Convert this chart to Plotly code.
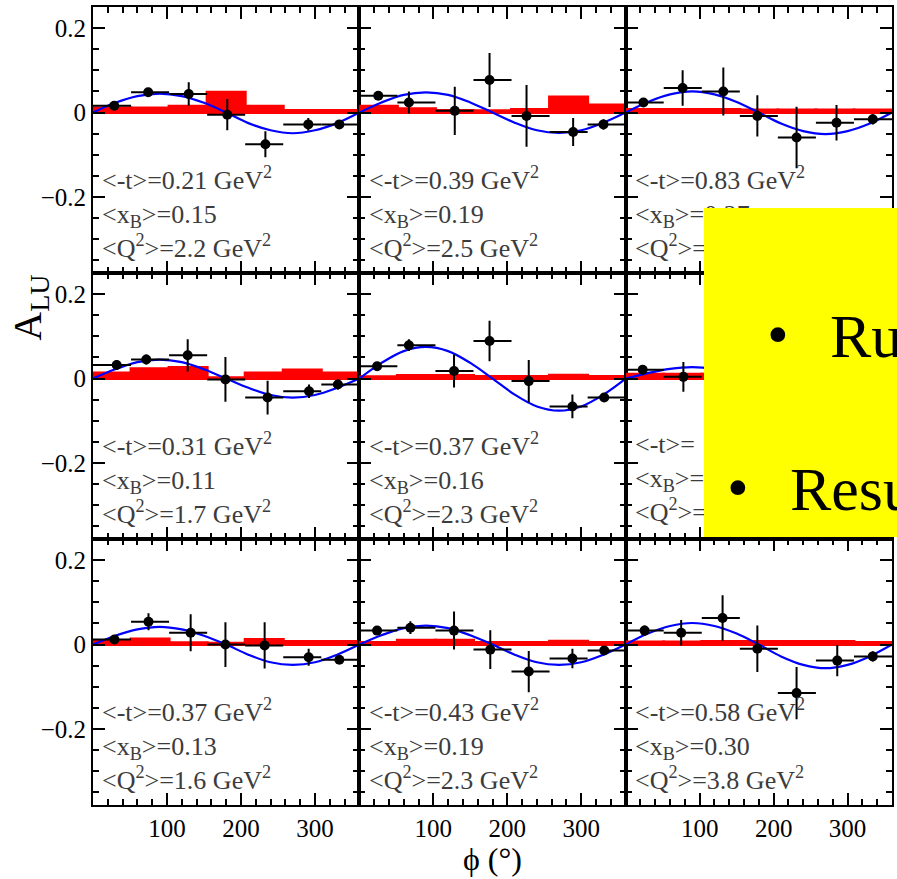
import plotly.graph_objects as go
from plotly.subplots import make_subplots

# ---------------- data ----------------
phi_edges = [0.0, 51.43, 102.86, 154.29, 205.71, 257.14, 308.57, 360.0]
phi_fit = [0, 30, 60, 90, 120, 150, 180, 210, 240, 270, 300, 330, 360]

# panels in reading order (top-left -> bottom-right)
phi_points = [
    [28.7, 74.6, 129.4, 181.5, 233, 291, 333],
    [25.6, 67, 129, 176, 226, 289, 330],
    [24, 77, 132, 178, 231, 285, 334],
    [32, 72, 128, 179, 236, 292, 331],
    [24, 67, 128, 176, 229, 288, 331],
    [23, 78],
    [29, 75, 132, 179, 232, 291.5, 333],
    [24, 69, 128, 177, 229, 288, 331],
    [25.6, 75, 131, 178, 231, 286, 334],
]
alu_values = [
    [0.016, 0.048, 0.044, -0.005, -0.075, -0.028, -0.028],
    [0.040, 0.024, 0.004, 0.077, -0.008, -0.046, -0.028],
    [0.024, 0.058, 0.050, -0.008, -0.059, -0.024, -0.016],
    [0.032, 0.045, 0.055, -0.002, -0.045, -0.030, -0.014],
    [0.029, 0.079, 0.018, 0.089, -0.006, -0.066, -0.045],
    [0.021, 0.004],
    [0.012, 0.054, 0.028, 0.000, -0.002, -0.030, -0.036],
    [0.033, 0.040, 0.033, -0.012, -0.064, -0.033, -0.014],
    [0.033, 0.028, 0.063, -0.010, -0.115, -0.038, -0.028],
]
alu_errors = [
    [0.010, 0.010, 0.028, 0.037, 0.031, 0.015, 0.010],
    [0.010, 0.026, 0.057, 0.064, 0.073, 0.033, 0.012],
    [0.010, 0.042, 0.057, 0.049, 0.073, 0.042, 0.012],
    [0.012, 0.012, 0.038, 0.053, 0.040, 0.016, 0.012],
    [0.010, 0.014, 0.039, 0.048, 0.050, 0.028, 0.010],
    [0.010, 0.035],
    [0.010, 0.020, 0.044, 0.053, 0.055, 0.020, 0.010],
    [0.010, 0.015, 0.045, 0.046, 0.049, 0.023, 0.010],
    [0.012, 0.030, 0.054, 0.055, 0.062, 0.037, 0.012],
]
sys_values = [
    [0.011, 0.011, 0.015, 0.048, 0.015, 0.005, 0.005],
    [0.015, 0.009, 0.005, 0.004, 0.007, 0.037, 0.018],
    [0.007, 0.007, 0.007, 0.006, 0.006, 0.006, 0.006],
    [0.013, 0.023, 0.026, 0.002, 0.013, 0.020, 0.013],
    [0.004, 0.007, 0.007, 0.005, 0.005, 0.008, 0.005],
    [0.010, 0.010, 0.010],
    [0.007, 0.013, 0.004, 0.003, 0.012, 0.007, 0.007],
    [0.005, 0.010, 0.010, 0.005, 0.005, 0.008, 0.005],
    [0.006, 0.006, 0.007, 0.007, 0.007, 0.007, 0.005],
]
fit_values = [
    [0, 0.023, 0.039, 0.045, 0.039, 0.023, 0, -0.025, -0.042, -0.049, -0.042, -0.025, 0],
    [0, 0.024, 0.042, 0.048, 0.042, 0.024, 0, -0.024, -0.042, -0.048, -0.042, -0.024, 0],
    [0, 0.025, 0.043, 0.050, 0.043, 0.025, 0, -0.026, -0.044, -0.051, -0.044, -0.026, 0],
    [0, 0.022, 0.039, 0.045, 0.039, 0.022, 0, -0.022, -0.039, -0.045, -0.039, -0.022, 0],
    [0, 0.037, 0.065, 0.075, 0.065, 0.037, 0, -0.038, -0.066, -0.076, -0.066, -0.038, 0],
    [0, 0.013, 0.023, 0.027, 0.023, 0.013, 0, -0.013, -0.023, -0.027, -0.023, -0.013, 0],
    [0, 0.021, 0.036, 0.042, 0.036, 0.021, 0, -0.024, -0.042, -0.048, -0.042, -0.024, 0],
    [0, 0.022, 0.039, 0.045, 0.039, 0.022, 0, -0.024, -0.042, -0.048, -0.042, -0.024, 0],
    [0, 0.026, 0.044, 0.051, 0.044, 0.026, 0, -0.028, -0.048, -0.056, -0.048, -0.028, 0],
]
t_labels = ["0.21", "0.39", "0.83", "0.31", "0.37", None, "0.37", "0.43", "0.58"]
xb_labels = ["0.15", "0.19", "0.27", "0.11", "0.16", None, "0.13", "0.19", "0.30"]
q2_labels = ["2.2", "2.5", None, "1.7", "2.3", None, "1.6", "2.3", "3.8"]
x_tick_vals = [100, 200, 300]
y_tick_vals = [-0.2, 0, 0.2]
overlay_lines = ["Ru", "Resu"]

# ---------------- figure ----------------
FONT = "Liberation Serif"
fig = make_subplots(rows=3, cols=3, horizontal_spacing=0, vertical_spacing=0)

bin_w = phi_edges[1] - phi_edges[0]
annotations = []
for i in range(9):
    r, c = i // 3 + 1, i % 3 + 1
    n = "" if i == 0 else str(i + 1)
    # systematic band
    centers = [(phi_edges[k] + phi_edges[k + 1]) / 2 for k in range(len(sys_values[i]))]
    fig.add_trace(go.Bar(x=centers, y=sys_values[i], base=0, width=bin_w,
                         marker=dict(color="#ff0000", line=dict(color="#ff0000", width=3)),
                         showlegend=False), row=r, col=c)
    # fit curve
    fig.add_trace(go.Scatter(x=phi_fit, y=fit_values[i], mode="lines",
                             line=dict(color="#0000ff", width=2.2, shape="spline"),
                             showlegend=False), row=r, col=c)
    # data points
    lo, hi = [], []
    for p in phi_points[i]:
        k = max(j for j in range(7) if phi_edges[j] <= p)
        lo.append(p - phi_edges[k])
        hi.append(phi_edges[k + 1] - p)
    fig.add_trace(go.Scatter(x=phi_points[i], y=alu_values[i], mode="markers",
                             marker=dict(color="black", size=10),
                             error_y=dict(type="data", array=alu_errors[i], color="black",
                                          thickness=2, width=0),
                             error_x=dict(type="data", array=hi, arrayminus=lo, color="black",
                                          thickness=2, width=0),
                             showlegend=False), row=r, col=c)
    # kinematic labels (one block of three lines)
    l1 = "&lt;-t&gt;=" + (t_labels[i] + " GeV<sup>2</sup>" if t_labels[i] else "")
    l2 = "&lt;x<sub>B</sub>&gt;=" + (xb_labels[i] if xb_labels[i] else "")
    l3 = "&lt;Q<sup>2</sup>&gt;=" + (q2_labels[i] + " GeV<sup>2</sup>" if q2_labels[i] else "")
    annotations.append(dict(text=l1 + "<br>" + l2 + "<br>" + l3, x=10, y=-0.236,
                            xref="x" + n, yref="y" + n, align="left",
                            xanchor="left", yanchor="middle", showarrow=False,
                            font=dict(family=FONT, size=26, color="#3c3c3c")))

axis_common = dict(showline=True, linecolor="black", linewidth=2, mirror="ticks",
                   ticks="inside", tickcolor="black", tickwidth=1.5, ticklen=12,
                   showgrid=False, zeroline=False,
                   tickfont=dict(family=FONT, size=25, color="black"))
for i in range(9):
    r, c = i // 3 + 1, i % 3 + 1
    fig.update_xaxes(range=[0, 360], tickmode="array", tickvals=x_tick_vals,
                     minor=dict(tickmode="linear", tick0=0, dtick=20, ticks="inside",
                                ticklen=6, tickwidth=1.5, tickcolor="black", showgrid=False),
                     showticklabels=(r == 3), row=r, col=c, **axis_common)
    fig.update_yaxes(range=[-0.38, 0.25], tickmode="array", tickvals=y_tick_vals,
                     minor=dict(tickmode="linear", tick0=0, dtick=0.05, ticks="inside",
                                ticklen=6, tickwidth=1.5, tickcolor="black", showgrid=False),
                     showticklabels=(c == 1), row=r, col=c, **axis_common)

# axis titles
annotations.append(dict(text="A<sub>LU</sub>", x=-0.079, y=0.623, xref="paper", yref="paper",
                        xanchor="center", yanchor="middle", textangle=-90, showarrow=False,
                        font=dict(family=FONT, size=40, color="black")))
annotations.append(dict(text="ϕ (°)", x=0.5, y=-0.068, xref="paper", yref="paper",
                        xanchor="center", yanchor="middle", showarrow=False,
                        font=dict(family=FONT, size=32, color="black")))

# yellow slide overlay
annotations.append(dict(text=" ", x=0.7653, y=0.7481, xref="paper", yref="paper",
                        xanchor="left", yanchor="top", width=200, height=329,
                        bgcolor="#ffff00", borderpad=0, borderwidth=0, showarrow=False,
                        font=dict(size=10)))
for bx, tx, yy, word in [(0.8577, 0.9201, 0.5877, overlay_lines[0]),
                         (0.8077, 0.8702, 0.3960, overlay_lines[1])]:
    annotations.append(dict(text="•", x=bx, y=yy + 0.003, xref="paper", yref="paper",
                            xanchor="center", yanchor="middle", showarrow=False,
                            font=dict(family=FONT, size=62, color="black")))
    annotations.append(dict(text=word, x=tx, y=yy, xref="paper", yref="paper",
                            xanchor="left", yanchor="middle", showarrow=False,
                            font=dict(family=FONT, size=62, color="black")))

fig.update_layout(width=897, height=879,
                  margin=dict(l=93, r=3, t=7, b=74, pad=0),
                  paper_bgcolor="white", plot_bgcolor="white",
                  barmode="overlay", showlegend=False,
                  annotations=annotations)

fig.write_html("out.html", config={"displayModeBar": False},
               post_script="document.body.style.margin='0';")
